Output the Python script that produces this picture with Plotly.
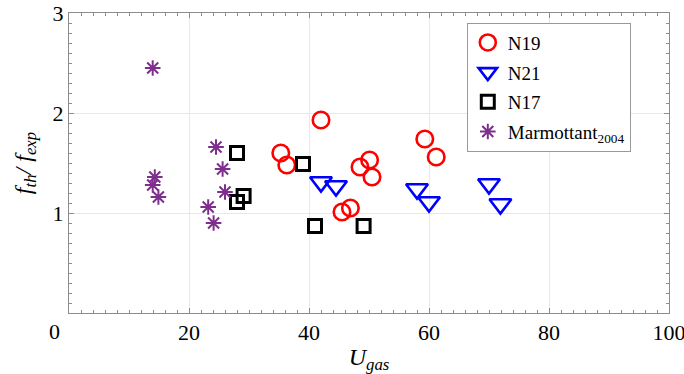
import plotly.graph_objects as go

# Measured frequency ratio f_th/f_exp against gas velocity U_gas
n19_u = [35.3, 36.3, 42.0, 45.5, 46.9, 48.5, 50.1, 50.5, 59.3, 61.2]
n19_r = [1.60, 1.48, 1.93, 1.01, 1.05, 1.46, 1.53, 1.36, 1.74, 1.56]

n21_u = [42.0, 44.5, 58.0, 60.0, 70.0, 71.9]
n21_r = [1.31, 1.27, 1.24, 1.11, 1.29, 1.09]

n17_u = [28.0, 28.0, 29.1, 39.0, 41.0, 49.1]
n17_r = [1.60, 1.11, 1.17, 1.49, 0.87, 0.87]

marm_u = [13.95, 14.3, 13.95, 14.9, 24.5, 25.6, 26.0, 23.2, 24.1]
marm_r = [2.45, 1.36, 1.28, 1.16, 1.66, 1.44, 1.21, 1.06, 0.90]

x_ticks = [20, 40, 60, 80, 100]
y_ticks = [1, 2, 3]

FONT = "Liberation Serif"
FRAME = "#8c8c8c"
GRID = "#e8e8e8"

fig = go.Figure()
fig.add_trace(go.Scatter(
    x=n19_u, y=n19_r, mode="markers", name="N19", legendgroup="a",
    marker=dict(symbol="circle-open", size=16.5, color="#ff0000",
                line=dict(width=2.6)),
))
fig.add_trace(go.Scatter(
    x=n21_u, y=n21_r, mode="markers", name="N21", legendgroup="b",
    marker=dict(symbol="triangle-down-open", size=19, color="#0000ff",
                line=dict(width=2.6)),
))
fig.add_trace(go.Scatter(
    x=n17_u, y=n17_r, mode="markers", name="N17", legendgroup="c",
    marker=dict(symbol="square-open", size=13, color="#000000",
                line=dict(width=3)),
))
fig.add_trace(go.Scatter(
    x=marm_u, y=marm_r, mode="markers", name="Marmottant<sub>2004</sub>",
    legendgroup="d",
    marker=dict(symbol="asterisk-open", size=13, color="#7e2f8e",
                line=dict(width=2)),
))

axis_common = dict(
    showline=True, linecolor=FRAME, linewidth=1, mirror="allticks",
    ticks="inside", tickcolor=FRAME, ticklen=5, tickwidth=1,
    showgrid=True, gridcolor=GRID, gridwidth=1, zeroline=False,
    tickfont=dict(family=FONT, size=22, color="#000000"),
    ticklabeloverflow="allow",
)

fig.update_xaxes(
    range=[0, 100], tickvals=x_ticks, ticktext=[str(v) for v in x_ticks],
    minor=dict(dtick=2, ticks="inside", ticklen=3, tickcolor=FRAME,
               showgrid=False),
    title=dict(text="<i>U<sub>gas</sub></i>", font=dict(family=FONT, size=24),
               standoff=10),
    **axis_common,
)
fig.update_yaxes(
    range=[0, 3], tickvals=y_ticks, ticktext=[str(v) for v in y_ticks],
    minor=dict(dtick=0.1, ticks="inside", ticklen=3, tickcolor=FRAME,
               showgrid=False),
    title=dict(text="<i>f<sub>th</sub>/ f<sub>exp</sub></i>",
               font=dict(family=FONT, size=24), standoff=14),
    ticklabelstandoff=0,
    **axis_common,
)

# shared origin label at the lower-left corner
fig.add_annotation(x=0, y=0, xref="x", yref="y", text="0", showarrow=False,
                   xshift=-15, yshift=-18,
                   font=dict(family=FONT, size=22, color="#000000"))

fig.update_layout(
    width=684, height=374,
    margin=dict(l=69, r=15.4, t=13.3, b=61.3, autoexpand=False),
    paper_bgcolor="white", plot_bgcolor="white",
    font=dict(family=FONT, color="#000000"),
    showlegend=True,
    legend=dict(
        x=0.663, y=0.968, xanchor="left", yanchor="top",
        bgcolor="white", bordercolor="#999999", borderwidth=1,
        font=dict(family=FONT, size=19, color="#000000"),
        tracegroupgap=2,
    ),
)

fig.write_html("out.html")
